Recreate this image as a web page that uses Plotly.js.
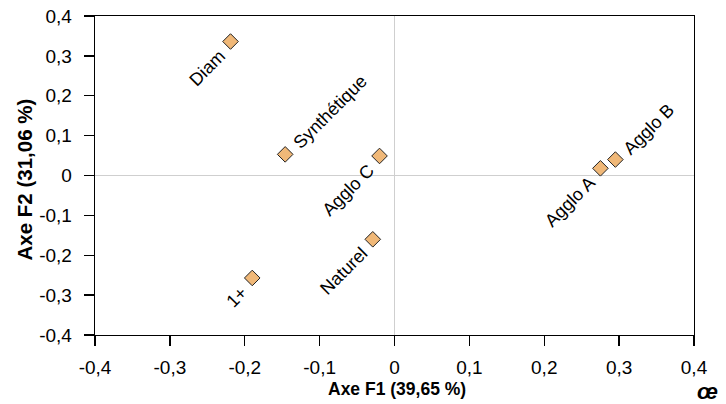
<!DOCTYPE html>
<html><head><meta charset="utf-8">
<script src="https://cdn.plot.ly/plotly-3.0.1.min.js"></script>
<style>html,body{margin:0;padding:0;background:#fff}#chart{width:726px;height:404px}</style>
</head><body><div id="chart"></div>
<script>
// Data
var labels = ["Diam", "Synthétique", "Agglo C", "Naturel", "1+", "Agglo A", "Agglo B"];
var f1 = [-0.219, -0.146, -0.020, -0.029, -0.190, 0.275, 0.295];
var f2 = [0.336, 0.053, 0.049, -0.160, -0.257, 0.018, 0.040];
var labelSide = ["left", "right", "left", "left", "left", "left", "right"];
var tickVals = [-0.4, -0.3, -0.2, -0.1, 0, 0.1, 0.2, 0.3, 0.4];
var tickText = ["-0,4", "-0,3", "-0,2", "-0,1", "0", "0,1", "0,2", "0,3", "0,4"];
var xTitle = "Axe F1 (39,65 %)";
var yTitle = "Axe F2 (31,06 %)";

var FONT = "Liberation Sans, Arial, sans-serif";
var cv = document.createElement("canvas").getContext("2d");
function w(txt, f) { cv.font = f; return cv.measureText(txt).width; }

var labelSize = 18;
var gap = 14, perp = 2, c = Math.SQRT1_2;

var annotations = labels.map(function (t, i) {
  var L = w(t, labelSize + "px Liberation Sans");
  var d = gap + L / 2;
  var s = labelSide[i] === "left" ? -1 : 1;
  return {
    x: f1[i], y: f2[i], xref: "x", yref: "y", text: t, showarrow: false,
    textangle: -45, font: {family: FONT, size: labelSize, color: "#000"},
    xshift: s * d * c + perp * c, yshift: s * d * c - perp * c
  };
});
annotations.push({
  x: 0.5, y: 0, xref: "paper", yref: "paper", xanchor: "center", yanchor: "top",
  xshift: 2, yshift: -42, text: "<b>" + xTitle + "</b>", showarrow: false,
  font: {family: FONT, size: 17.5, color: "#000"}
});
annotations.push({
  x: 0, y: 0.5, xref: "paper", yref: "paper", xanchor: "center", yanchor: "middle",
  xshift: -71, yshift: -4, textangle: -90, text: "<b>" + yTitle + "</b>", showarrow: false,
  font: {family: FONT, size: 20.5, color: "#000"}
});
annotations.push({
  x: 1, y: 0, xref: "paper", yref: "paper", xanchor: "right", yanchor: "bottom",
  xshift: 26, yshift: -71, text: "<b><i>œ</i></b>", showarrow: false,
  font: {family: FONT, size: 22, color: "#000"}
});

var trace = {
  x: f1, y: f2, mode: "markers", type: "scatter", hoverinfo: "skip",
  marker: {symbol: "diamond", size: 12, color: "#F0B878", line: {color: "#222", width: 1}}
};

var axisBase = {
  range: [-0.4, 0.4], tickvals: tickVals, ticktext: tickText,
  ticks: "outside", ticklen: 10, tickcolor: "#000", tickwidth: 1.3,
  showline: true, linecolor: "#000", linewidth: 1.3, mirror: true,
  showgrid: false, zeroline: true, zerolinecolor: "#cfcfcf", zerolinewidth: 1,
  tickfont: {family: FONT, size: 19, color: "#000"}, fixedrange: true
};
var xaxis = Object.assign({}, axisBase, {ticklabelstandoff: 5});
var yaxis = Object.assign({}, axisBase, {ticklabelstandoff: 8});

var layout = {
  width: 726, height: 404,
  margin: {l: 95, r: 32, t: 16, b: 69},
  paper_bgcolor: "#fff", plot_bgcolor: "#fff",
  showlegend: false, xaxis: xaxis, yaxis: yaxis, annotations: annotations
};
Plotly.newPlot("chart", [trace], layout, {displayModeBar: false, staticPlot: true});
</script></body></html>
